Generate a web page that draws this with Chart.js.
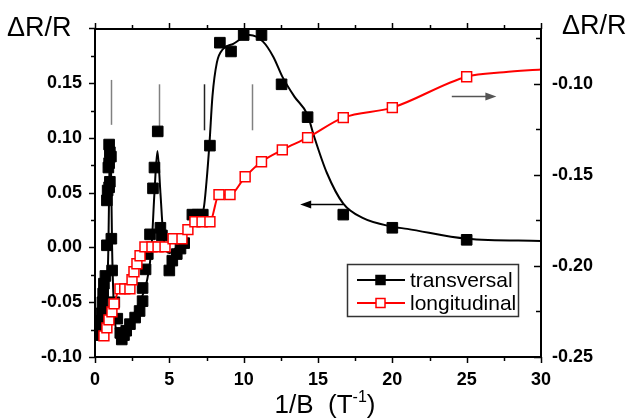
<!DOCTYPE html>
<html><head><meta charset="utf-8">
<script src="https://cdn.jsdelivr.net/npm/chart.js@4/dist/chart.umd.min.js"></script>
<style>html,body{margin:0;padding:0;background:#fff}#wrap{width:628px;height:419px;position:relative}</style>
</head><body><div id="wrap"><canvas id="c" width="628" height="419"></canvas></div>
<script>
// ---- tick labels ----
const xTicks = [0, 5, 10, 15, 20, 25, 30];
const leftTicks = [-0.10, -0.05, 0.00, 0.05, 0.10, 0.15];
const rightTicks = [-0.25, -0.20, -0.15, -0.10];

// ---- transversal (left axis): measured points ----
const transX = [0.30,0.35,0.35,0.45,0.50,0.55,0.60,0.70,0.80,0.80,0.85,0.90,0.95,0.95,1.00,1.07,1.00,0.95,1.10,1.15,
  1.30,1.50,1.70,1.80,1.95,2.10,2.35,2.70,3.00,3.20,3.20,3.40,3.55,3.70,3.90,4.00,4.22,4.40,4.50,
  5.00,5.20,5.50,5.75,6.00,6.55,6.90,7.25,7.73,8.40,9.15,10.00,11.20,12.55,14.30,16.70,20.00,25.00];
const transY = [-0.080,-0.074,-0.067,-0.060,-0.050,-0.042,-0.033,-0.026,0.002,0.043,0.052,0.073,0.077,0.094,0.087,0.083,0.060,0.055,0.008,-0.021,
  -0.050,-0.065,-0.078,-0.084,-0.080,-0.076,-0.070,-0.064,-0.058,-0.049,-0.037,-0.020,-0.006,0.012,0.054,0.073,0.106,0.018,0.011,
  -0.021,-0.012,-0.006,-0.001,0.004,0.030,0.030,0.030,0.093,0.187,0.179,0.194,0.194,0.149,0.119,0.030,0.018,0.007];

// ---- transversal: drawn guide curve ----
const fitX = [0.45,0.80,0.90,0.97,1.02,1.08,1.15,1.30,1.60,2.20,3.00,3.50,3.80,4.00,4.20,4.40,4.60,5.00,6.00,7.00,7.30,7.50,7.70,7.90,8.20,8.60,9.30,10.40,11.30,12.00,12.60,13.40,14.30,14.70,15.60,16.70,18.00,20.00,21.00,25.00,30.00];
const fitY = [-0.075,-0.040,0.000,0.070,0.090,0.070,0.000,-0.060,-0.080,-0.070,-0.050,-0.030,0.000,0.050,0.088,0.050,0.010,-0.005,0.010,0.030,0.035,0.060,0.095,0.138,0.169,0.181,0.186,0.194,0.188,0.174,0.156,0.138,0.121,0.103,0.068,0.040,0.027,0.019,0.017,0.008,0.006];

// ---- longitudinal (right axis) ----
const longX = [0.60,0.80,0.94,1.14,1.28,1.68,2.00,2.35,2.49,2.62,2.82,3.03,3.36,3.83,4.24,4.71,5.25,5.85,6.25,6.72,7.20,7.73,8.34,9.08,10.10,11.20,12.60,14.30,16.70,20.00,25.00];
const longY = [-0.2384,-0.2340,-0.2296,-0.2252,-0.2208,-0.2126,-0.2126,-0.2126,-0.2076,-0.2032,-0.1988,-0.1944,-0.1895,-0.1895,-0.1895,-0.1895,-0.1850,-0.1850,-0.1800,-0.1757,-0.1757,-0.1757,-0.1608,-0.1608,-0.1510,-0.1427,-0.1362,-0.1295,-0.1185,-0.1130,-0.0960];
const longTailX = [27.5, 30.0];
const longTailY = [-0.0935, -0.0920];

// ---- annotations ----
const markerX = [1.05, 4.30, 7.33, 10.56];
const markerTop = [0.153, 0.149, 0.149, 0.149];
const markerBottom = [0.112, 0.107, 0.107, 0.107];
const markerColor = ['#808080', '#808080', '#222222', '#808080'];
const arrowLeft = {from: 16.7, to: 13.8, y: 0.040};      // left axis
const arrowRight = {from: 24.0, to: 27.0, y: -0.1066};   // right axis

const seriesNames = ['transversal', 'longitudinal'];

const pts = (xs, ys) => xs.map((v, i) => ({x: v, y: ys[i]}));
const FONT = '"Liberation Sans", Arial, sans-serif';

const decor = {
  id: 'decor',
  beforeDatasetsDraw(chart) {
    const {ctx, scales: {x, y, y2}} = chart;
    ctx.save();
    ctx.lineWidth = 1.5;
    markerX.forEach((mx, i) => {
      ctx.strokeStyle = markerColor[i];
      ctx.beginPath();
      const px = Math.round(x.getPixelForValue(mx)) + 0.5;
      ctx.moveTo(px, y.getPixelForValue(markerTop[i]));
      ctx.lineTo(px, y.getPixelForValue(markerBottom[i]));
      ctx.stroke();
    });
    const arrow = (x1, x2, py, col) => {
      ctx.strokeStyle = col; ctx.fillStyle = col; ctx.lineWidth = 1.5;
      const dir = Math.sign(x2 - x1);
      ctx.beginPath(); ctx.moveTo(x1, py); ctx.lineTo(x2 - dir * 8, py); ctx.stroke();
      ctx.beginPath(); ctx.moveTo(x2, py); ctx.lineTo(x2 - dir * 11, py - 4); ctx.lineTo(x2 - dir * 11, py + 4); ctx.closePath(); ctx.fill();
    };
    arrow(x.getPixelForValue(arrowLeft.from), x.getPixelForValue(arrowLeft.to), Math.round(y.getPixelForValue(arrowLeft.y)) + 0.5, '#000');
    arrow(x.getPixelForValue(arrowRight.from), x.getPixelForValue(arrowRight.to), Math.round(y2.getPixelForValue(arrowRight.y)) + 0.5, '#555');
    ctx.restore();
  },
  afterDraw(chart) {
    const {ctx, chartArea: a, scales: {x, y, y2}} = chart;
    ctx.save();
    ctx.strokeStyle = '#000'; ctx.lineWidth = 2;
    ctx.strokeRect(a.left, a.top, a.right - a.left, a.bottom - a.top);
    ctx.lineWidth = 1.5;
    const tk = (x1, y1, x2, y2_) => { ctx.beginPath(); ctx.moveTo(x1, y1); ctx.lineTo(x2, y2_); ctx.stroke(); };
    for (let v = 0; v <= 30.001; v += 2.5) {
      const px = Math.round(x.getPixelForValue(v)) + 0.5;
      const major = Math.abs(v % 5) < 1e-6;
      const L = major ? 6 : 4;
      tk(px, a.bottom, px, a.bottom + L);
      tk(px, a.top, px, a.top - L);
    }
    for (let v = -0.1; v <= 0.2; v += 0.025) {
      const py = Math.round(y.getPixelForValue(v)) + 0.5;
      if (py < a.top - 1) continue;
      const major = Math.abs(Math.round(v / 0.05) * 0.05 - v) < 1e-6;
      tk(a.left, py, a.left - (major ? 6 : 4), py);
    }
    for (let v = -0.25; v <= -0.07; v += 0.025) {
      const py = Math.round(y2.getPixelForValue(v)) + 0.5;
      if (py < a.top - 1) continue;
      const major = Math.abs(Math.round(v / 0.05) * 0.05 - v) < 1e-6;
      tk(a.right, py, a.right - (major ? 7 : 5), py);
    }
    // axis titles
    ctx.fillStyle = '#000';
    ctx.textBaseline = 'alphabetic';
    ctx.font = '27px ' + FONT;
    ctx.textAlign = 'left';
    ctx.fillText('\u0394R/R', 7, 36);
    ctx.fillText('\u0394R/R', 562, 34);
    // x title with superscript
    const main = '1/B  (T', sup = '-1', end = ')';
    ctx.font = '26px ' + FONT;
    const w1 = ctx.measureText(main).width, w3 = ctx.measureText(end).width;
    ctx.font = '16px ' + FONT;
    const w2 = ctx.measureText(sup).width;
    let sx = 325 - (w1 + w2 + w3) / 2;
    const by = 413;
    ctx.font = '26px ' + FONT;
    ctx.fillText(main, sx, by);
    ctx.font = '16px ' + FONT;
    ctx.fillText(sup, sx + w1, by - 11);
    ctx.font = '26px ' + FONT;
    ctx.fillText(end, sx + w1 + w2, by);
    // legend
    const L0 = 347, T0 = 264, W = 171, H = 52;
    ctx.fillStyle = '#fff';
    ctx.fillRect(L0, T0, W, H);
    ctx.strokeStyle = '#333'; ctx.lineWidth = 1.5;
    ctx.strokeRect(L0 + 0.5, T0 + 0.5, W, H);
    const rows = [{c: '#000', fill: '#000', yy: T0 + 16}, {c: '#ff0000', fill: '#fff', yy: T0 + 39}];
    rows.forEach((r, i) => {
      ctx.strokeStyle = r.c; ctx.lineWidth = 2;
      tk(357, r.yy, 405, r.yy);
      ctx.fillStyle = r.fill; ctx.fillRect(376, r.yy - 4.5, 9, 9);
      ctx.lineWidth = 1.5; ctx.strokeRect(376, r.yy - 4.5, 9, 9);
      ctx.fillStyle = '#000';
      ctx.font = '21px ' + FONT;
      ctx.textBaseline = 'middle';
      ctx.fillText(seriesNames[i], 410, r.yy + 1);
    });
    ctx.restore();
  }
};

const tickFont = {family: FONT, size: 18, weight: 'bold'};

new Chart(document.getElementById('c'), {
  type: 'scatter',
  data: {
    datasets: [
      {
        label: seriesNames[1], yAxisID: 'y2', order: 0,
        data: pts(longX.concat(longTailX), longY.concat(longTailY)),
        showLine: true, borderColor: '#ff0000', borderWidth: 2, cubicInterpolationMode: 'monotone',
        pointStyle: 'rect', backgroundColor: '#ffffff', pointBorderColor: '#ff0000', pointBorderWidth: 1.5,
        pointRadius: (c) => c.dataIndex < longX.length ? 7 : 0
      },
      {
        label: seriesNames[0], yAxisID: 'y', order: 1,
        data: pts(transX, transY), showLine: false,
        pointStyle: 'rect', pointRadius: 7.5, backgroundColor: '#000', borderColor: '#000', pointBorderWidth: 1
      },
      {
        label: 'fit', yAxisID: 'y', order: 2,
        data: pts(fitX, fitY), showLine: true, borderColor: '#000', borderWidth: 2,
        cubicInterpolationMode: 'monotone', pointRadius: 0
      }
    ]
  },
  options: {
    responsive: false, animation: false, devicePixelRatio: 1,
    layout: {padding: {top: 29, left: 0, right: 0, bottom: 0}},
    plugins: {legend: {display: false}, tooltip: {enabled: false}},
    scales: {
      x: {
        type: 'linear', min: 0, max: 30,
        afterBuildTicks: (s) => { s.ticks = xTicks.map(v => ({value: v})); },
        afterFit: (s) => { s.height = 62; },
        grid: {display: false, drawTicks: false}, border: {display: false},
        ticks: {padding: 12, color: '#000', font: tickFont}
      },
      y: {
        type: 'linear', position: 'left', min: -0.1, max: 0.1995,
        afterBuildTicks: (s) => { s.ticks = leftTicks.map(v => ({value: v})); },
        afterFit: (s) => { s.width = 95; },
        grid: {display: false, drawTicks: false}, border: {display: false},
        ticks: {padding: 13, color: '#000', callback: (v) => v.toFixed(2), font: tickFont}
      },
      y2: {
        type: 'linear', position: 'right', min: -0.25, max: -0.0698,
        afterBuildTicks: (s) => { s.ticks = rightTicks.map(v => ({value: v})); },
        afterFit: (s) => { s.width = 87; },
        grid: {display: false, drawTicks: false}, border: {display: false},
        ticks: {padding: 11, color: '#000', callback: (v) => v.toFixed(2), font: tickFont}
      }
    }
  },
  plugins: [decor]
});
</script></body></html>
